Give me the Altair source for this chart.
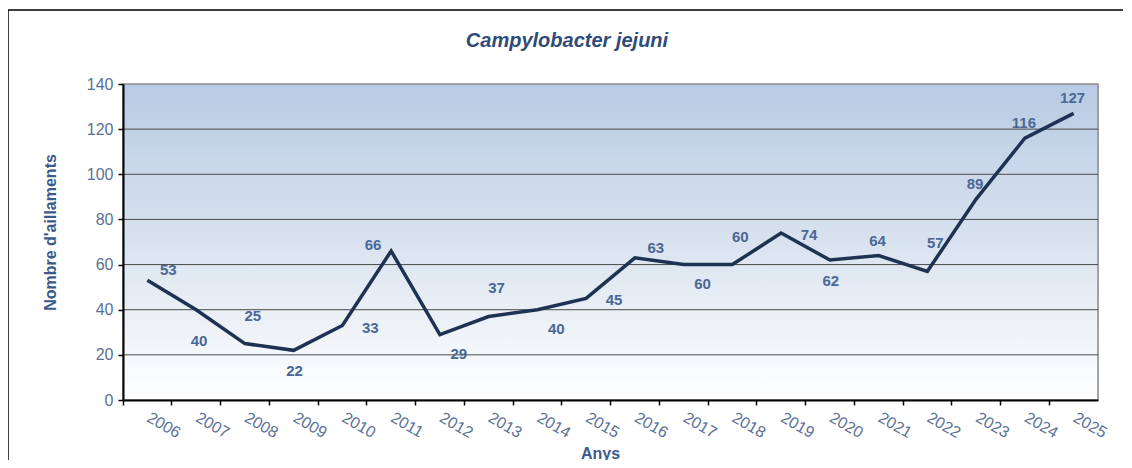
import altair as alt
import pandas as pd

# ---- data ----
years = ["2006", "2007", "2008", "2009", "2010", "2011", "2012", "2013", "2014", "2015",
         "2016", "2017", "2018", "2019", "2020", "2021", "2022", "2023", "2024", "2025"]
isolates = [53, 40, 25, 22, 33, 66, 29, 37, 40, 45, 63, 60, 60, 74, 62, 64, 57, 89, 116, 127]
# where each value label sits relative to its point (as in the reference)
label_place = ["above-right", "below-far", "above-far", "below", "right", "left",
               "below-right", "above-far", "below-right", "right", "above-right",
               "below-right", "above-far", "right", "below", "above", "above-far",
               "above", "above", "above"]
y_ticks = [0, 20, 40, 60, 80, 100, 120, 140]
grid_values = [20, 40, 60, 80, 100, 120]

title_text = ["Campylobacter jejuni"]
y_title = "Nombre d'aillaments"
x_title = "Anys"

# ---- styling ----
FONT = "Liberation Sans"
LINE_COLOR = "#1e3253"
LABEL_COLOR = "#4a6796"
AXIS_LABEL_COLOR = "#5b7096"
TITLE_COLOR = "#2f4b78"
AXIS_TITLE_COLOR = "#3a5a8c"

label_offsets = {
    "above-right": (21, -10),
    "below-right": (19, 19),
    "below": (1, 21),
    "below-far": (3, 31),
    "above": (-1, -15),
    "above-far": (8, -28),
    "right": (28, 2),
    "left": (-18, -6),
}

W, H = 975, 316

df = pd.DataFrame({"year": years, "value": isolates, "place": label_place})
grid_df = pd.DataFrame({"value": grid_values})
one = pd.DataFrame({"a": [0]})
title_df = pd.DataFrame({"t": title_text})

x_scale = alt.Scale(type="band", paddingInner=0, paddingOuter=0)
y_scale = alt.Scale(domain=[0, 140], nice=False)

x_axis = alt.Axis(
    title=x_title, bandPosition=0, labelAngle=30, labelAlign="left", labelBaseline="top",
    labelOffset=5, labelPadding=4, labelOverlap=False, labelColor=AXIS_LABEL_COLOR,
    labelFont=FONT, labelFontSize=16, tickColor="black", tickSize=5, tickWidth=1.5,
    domainColor="black", domainWidth=2, grid=False, zindex=1,
    titleFont=FONT, titleFontSize=16, titleFontWeight="bold", titleColor=AXIS_TITLE_COLOR,
    titleX=477, titleY=58, titleBaseline="alphabetic",
)
y_axis = alt.Axis(
    title=y_title, values=y_ticks, labelColor=AXIS_LABEL_COLOR, labelFont=FONT,
    labelFontSize=16, labelPadding=5, tickColor="black", tickSize=5, tickWidth=1.5,
    domainColor="black", domainWidth=2, grid=False, zindex=1,
    titleFont=FONT, titleFontSize=16, titleFontWeight="bold", titleColor=AXIS_TITLE_COLOR,
    titleX=-73, titleY=148, titleAlign="center", titleBaseline="middle",
)

X = alt.X("year:N", scale=x_scale, axis=x_axis, sort=years)
Y = alt.Y("value:Q", scale=y_scale, axis=y_axis)

frame = alt.Chart(one).mark_rect(fillOpacity=0, stroke="black", strokeWidth=1.5).encode(
    x=alt.value(-115), x2=alt.value(W + 60), y=alt.value(-74), y2=alt.value(H + 90)
)

title = alt.Chart(title_df).mark_text(
    font=FONT, fontSize=20, fontStyle="italic", fontWeight="bold", color=TITLE_COLOR,
    align="center", baseline="middle",
).encode(x=alt.value(444), y=alt.value(-43), text="t:N")

gradient = alt.LinearGradient(
    gradient="linear",
    stops=[alt.GradientStop(color="#b7cbe3", offset=0),
           alt.GradientStop(color="#d9e3ef", offset=0.5),
           alt.GradientStop(color="#ffffff", offset=1)],
    x1=0, x2=0, y1=0, y2=1,
)
background = alt.Chart(one).mark_rect(color=gradient, stroke="#8c8c8c", strokeWidth=1.5).encode(
    x=alt.value(0), x2=alt.value("width"), y=alt.value(0), y2=alt.value("height")
)

grid = alt.Chart(grid_df).mark_rule(color="#4a4a4a", strokeWidth=1).encode(y=Y)

base = alt.Chart(df).encode(x=X, y=Y)
line = base.mark_line(color=LINE_COLOR, strokeWidth=3.5, strokeJoin="miter")

texts = []
for place, (dx, dy) in label_offsets.items():
    texts.append(
        base.mark_text(dx=dx, dy=dy, font=FONT, fontSize=15, fontWeight="bold",
                       color=LABEL_COLOR, align="center", baseline="middle")
        .encode(text="value:Q")
        .transform_filter(alt.datum.place == place)
    )

chart = alt.layer(frame, title, background, grid, line, *texts).properties(
    width=W, height=H,
    padding={"left": 115, "top": 76, "right": 25, "bottom": 60},
    autosize=alt.AutoSizeParams(type="none"),
).configure_view(stroke=None).configure(background="white")

chart.save("out.html", embed_options={"renderer": "svg", "actions": False})
